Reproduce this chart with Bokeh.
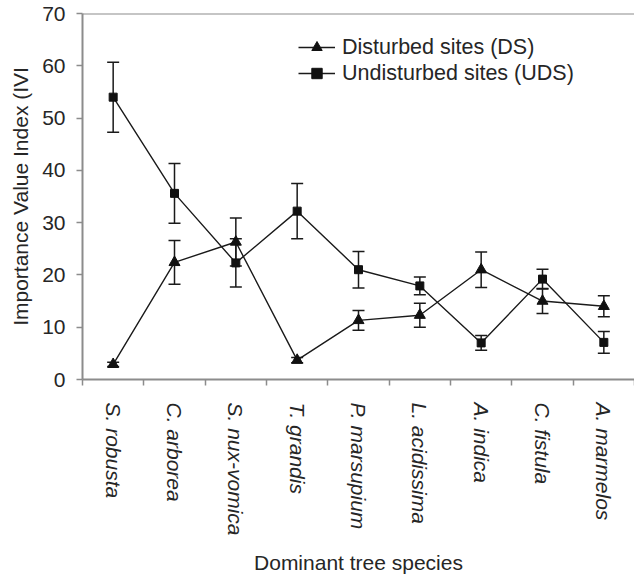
import math
from bokeh.plotting import figure
from bokeh.models import (ColumnDataSource, Whisker, TeeHead, Legend, LegendItem,
                          Range1d, FixedTicker, CustomJSTickFormatter, Span)
from bokeh.embed import file_html
from bokeh.resources import INLINE

species = ["S. robusta", "C. arborea", "S. nux-vomica", "T. grandis", "P. marsupium",
           "L. acidissima", "A. indica", "C. fistula", "A. marmelos"]
ds = [2.9, 22.4, 26.3, 3.7, 11.3, 12.3, 21.0, 15.0, 14.0]
ds_err = [0.4, 4.2, 4.6, 0.5, 1.9, 2.3, 3.4, 2.4, 2.0]
uds = [54.0, 35.6, 22.3, 32.2, 21.0, 17.9, 7.0, 19.2, 7.1]
uds_err = [6.7, 5.7, 4.6, 5.3, 3.5, 1.7, 1.4, 1.9, 2.1]
y_ticks = [0, 10, 20, 30, 40, 50, 60, 70]

FONT = "Liberation Sans"
TXT = "#262626"
AX = "#8c8c8c"

xc = [i + 0.5 for i in range(len(species))]
src_ds = ColumnDataSource(dict(x=xc, y=ds, lo=[v - e for v, e in zip(ds, ds_err)],
                               hi=[v + e for v, e in zip(ds, ds_err)]))
src_uds = ColumnDataSource(dict(x=xc, y=uds, lo=[v - e for v, e in zip(uds, uds_err)],
                                hi=[v + e for v, e in zip(uds, uds_err)]))

p = figure(width=634, height=579, output_backend="svg", toolbar_location=None,
           x_range=Range1d(0, len(species)), y_range=Range1d(0, 70),
           min_border_left=82, min_border_right=0, min_border_top=13, min_border_bottom=200)
p.outline_line_color = None
p.xgrid.grid_line_color = None
p.ygrid.grid_line_color = None
p.background_fill_color = "white"

# top border line
p.add_layout(Span(location=70, dimension="width", line_color=AX, line_width=2))

for src in (src_ds, src_uds):
    w = Whisker(base="x", upper="hi", lower="lo", source=src, line_color="#1a1a1a", line_width=1.5,
                upper_head=TeeHead(size=12, line_color="#1a1a1a", line_width=1.5),
                lower_head=TeeHead(size=12, line_color="#1a1a1a", line_width=1.5))
    p.add_layout(w)

l1 = p.line("x", "y", source=src_ds, line_color="#1a1a1a", line_width=1.4)
s1 = p.scatter("x", "y", source=src_ds, marker="triangle", size=11, color="#111111")
l2 = p.line("x", "y", source=src_uds, line_color="#1a1a1a", line_width=1.4)
s2 = p.scatter("x", "y", source=src_uds, marker="square", size=8, color="#111111")

legend = Legend(items=[LegendItem(label="Disturbed sites (DS)", renderers=[l1, s1]),
                       LegendItem(label="Undisturbed sites (UDS)", renderers=[l2, s2])],
                location=(216, 293), orientation="vertical",
                border_line_color=None, background_fill_alpha=0,
                padding=0, margin=0, spacing=0,
                glyph_width=37, glyph_height=26, label_height=26, label_standoff=7,
                label_text_font=FONT, label_text_font_size="21.5px", label_text_color=TXT)
p.add_layout(legend)

# y axis
ya = p.yaxis[0]
ya.ticker = FixedTicker(ticks=y_ticks)
ya.axis_line_color = AX
ya.axis_line_width = 2
ya.major_tick_line_color = AX
ya.major_tick_line_width = 1.5
ya.major_tick_out = 6
ya.major_tick_in = 0
ya.minor_tick_line_color = None
ya.major_label_standoff = 11
ya.major_label_text_font = FONT
ya.major_label_text_font_size = "21px"
ya.major_label_text_color = TXT
ya.axis_label = "Importance Value Index (IVI"
ya.axis_label_text_font = FONT
ya.axis_label_text_font_size = "21px"
ya.axis_label_text_font_style = "normal"
ya.axis_label_text_color = TXT
ya.axis_label_standoff = 7

# x axis
xa = p.xaxis[0]
xa.ticker = FixedTicker(ticks=xc, minor_ticks=list(range(len(species) + 1)))
xa.formatter = CustomJSTickFormatter(args=dict(names=species),
                                     code="const i = Math.floor(tick); return names[i] || '';")
xa.axis_line_color = AX
xa.axis_line_width = 2
xa.major_tick_line_color = None
xa.minor_tick_line_color = AX
xa.minor_tick_line_width = 1.5
xa.minor_tick_out = 6
xa.minor_tick_in = 0
xa.major_tick_out = 6
xa.major_tick_in = 0
xa.major_label_orientation = "vertical"
xa.major_label_standoff = 17
xa.major_label_text_font = FONT
xa.major_label_text_font_size = "21px"
xa.major_label_text_font_style = "italic"
xa.major_label_text_color = TXT
xa.axis_label = "Dominant tree species"
xa.axis_label_text_font = FONT
xa.axis_label_text_font_size = "21px"
xa.axis_label_text_font_style = "normal"
xa.axis_label_text_color = TXT
xa.axis_label_standoff = 12

open("out.html", "w").write(file_html(p, INLINE))
